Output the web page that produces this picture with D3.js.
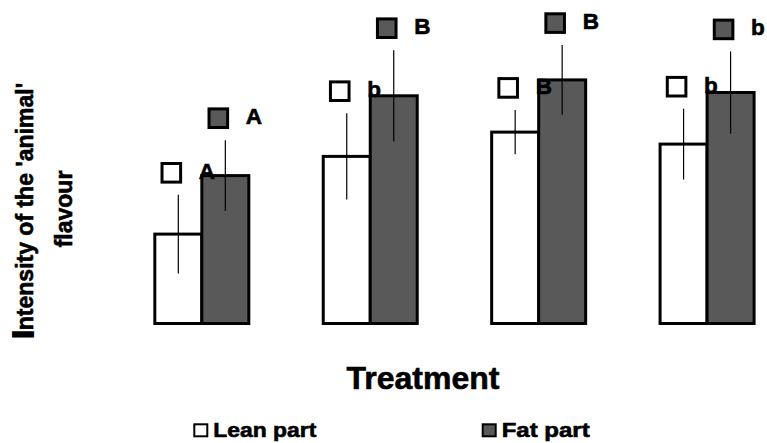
<!DOCTYPE html>
<html>
<head>
<meta charset="utf-8">
<script src="https://cdn.jsdelivr.net/npm/d3@7"></script>
<style>
  html, body { margin: 0; padding: 0; background: #fff; }
  text { font-family: "Liberation Sans", Arial, sans-serif; font-weight: bold; fill: #000; stroke: #000; stroke-width: 0.6px; }
</style>
</head>
<body>
<svg id="chart" width="767" height="443"></svg>
<script>
// ---- data ----
const categories = ["T1", "T2", "T3", "T4"];
const series = ["Lean part", "Fat part"];
const leanValues = [2.98, 5.57, 6.38, 5.98];
const fatValues = [4.93, 7.59, 8.12, 7.70];
const leanErrors = [1.31, 1.44, 0.74, 1.18];
const fatErrors = [1.18, 1.52, 1.16, 1.37];
const leanLetters = ["A", "b", "B", "b"];
const fatLetters = ["A", "B", "B", "b"];
const yTitleFirst = "I";
const yTitleRest = "ntensity of the 'animal'";
const yTitleLine2 = "flavour";
const xTitle = "Treatment";

const fills = { "Lean part": "#ffffff", "Fat part": "#595959" };

const rows = [];
categories.forEach((c, i) => {
  rows.push({ cat: c, s: "Lean part", v: leanValues[i], e: leanErrors[i], l: leanLetters[i] });
  rows.push({ cat: c, s: "Fat part", v: fatValues[i], e: fatErrors[i], l: fatLetters[i] });
});

const svg = d3.select("#chart");

const x0 = d3.scaleBand().domain(categories).range([117.6, 791.3])
  .paddingInner(0.4419).paddingOuter(0.221);
const x1 = d3.scaleBand().domain(series).range([0, x0.bandwidth()]).padding(0);
const y = d3.scaleLinear().domain([0, 10]).range([323.5, 23.5]);

const g = svg.append("g");

// bars
g.selectAll("rect.bar").data(rows).join("rect")
  .attr("class", "bar")
  .attr("x", d => x0(d.cat) + x1(d.s))
  .attr("y", d => y(d.v))
  .attr("width", x1.bandwidth())
  .attr("height", d => y(0) - y(d.v))
  .attr("fill", d => fills[d.s])
  .attr("stroke", "#000")
  .attr("stroke-width", 3);

// error bars
g.selectAll("line.err").data(rows).join("line")
  .attr("class", "err")
  .attr("x1", d => x0(d.cat) + x1(d.s) + x1.bandwidth() / 2)
  .attr("x2", d => x0(d.cat) + x1(d.s) + x1.bandwidth() / 2)
  .attr("y1", d => y(d.v + d.e))
  .attr("y2", d => y(d.v - d.e))
  .attr("stroke", "#000")
  .attr("stroke-width", 1.2);

// marker squares
const mx = d => x0(d.cat) + x1(d.s) + x1.bandwidth() / 2 - 7;
const my = d => y(d.v + d.e) - 22;
g.selectAll("rect.mk").data(rows).join("rect")
  .attr("class", "mk")
  .attr("x", d => mx(d) - 9.3)
  .attr("y", d => my(d) - 9.3)
  .attr("width", 18.6)
  .attr("height", 18.6)
  .attr("fill", d => fills[d.s])
  .attr("stroke", "#000")
  .attr("stroke-width", 3);

// significance letters
g.selectAll("text.let").data(rows).join("text")
  .attr("class", "let")
  .attr("x", d => mx(d) + 27.5)
  .attr("y", d => my(d) + 6)
  .attr("font-size", 22.5)
  .text(d => d.l);

// y title
const yt = svg.append("text")
  .attr("transform", "translate(33.3,210.7) rotate(-90)")
  .attr("text-anchor", "middle")
  .attr("font-size", 23);
yt.append("tspan").attr("font-size", 30).style("stroke-width", "2px").text(yTitleFirst);
yt.append("tspan").text(yTitleRest);

svg.append("text")
  .attr("transform", "translate(71.7,209) rotate(-90)")
  .attr("text-anchor", "middle")
  .attr("font-size", 23)
  .text(yTitleLine2);

// x title
svg.append("text")
  .attr("x", 423).attr("y", 389.3)
  .attr("text-anchor", "middle")
  .attr("font-size", 32)
  .text(xTitle);

// legend
const legendX = [194.3, 482.7];
const legendTextLen = [103, 88];
const leg = svg.selectAll("g.leg").data(series).join("g")
  .attr("class", "leg")
  .attr("transform", (d, i) => `translate(${legendX[i]},424.3)`);
leg.append("rect")
  .attr("width", 13).attr("height", 12)
  .attr("fill", d => fills[d])
  .attr("stroke", "#000").attr("stroke-width", 2);
leg.append("text")
  .attr("x", 19).attr("y", 13)
  .attr("font-size", 20.5)
  .attr("textLength", (d, i) => legendTextLen[i])
  .attr("lengthAdjust", "spacingAndGlyphs")
  .text(d => d);
</script>
</body>
</html>
